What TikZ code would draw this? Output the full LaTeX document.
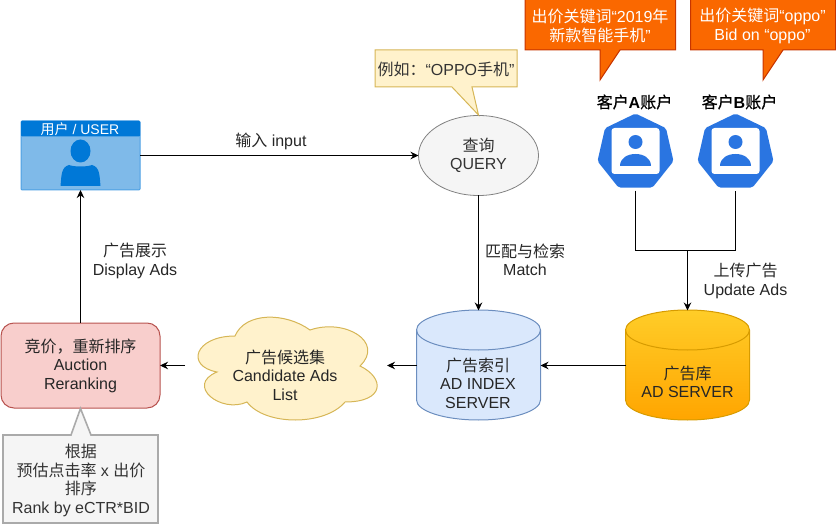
\documentclass[tikz,border=0pt]{standalone}
\usepackage{fontspec}
\setmainfont{Liberation Sans}
\newfontfamily\cjk{Noto Sans CJK SC}
\newfontfamily\cjkbold[FakeBold=0.6]{Noto Sans CJK SC}
\usetikzlibrary{arrows.meta,shapes.geometric}
\definecolor{userblue}{RGB}{0,120,215}
\definecolor{userfill}{RGB}{127,186,233}
\definecolor{useredge}{RGB}{77,160,228}
\definecolor{grayfill}{RGB}{245,245,245}
\definecolor{grayedge}{RGB}{130,130,130}
\definecolor{notegray}{RGB}{170,170,170}
\definecolor{labelgray}{RGB}{51,51,51}
\definecolor{notefill}{RGB}{255,242,204}
\definecolor{noteedge}{RGB}{214,182,86}
\definecolor{bidfill}{RGB}{250,104,0}
\definecolor{bidedge}{RGB}{199,53,0}
\definecolor{clientblue}{RGB}{42,117,225}
\definecolor{indexfill}{RGB}{218,232,252}
\definecolor{indexedge}{RGB}{108,142,191}
\definecolor{serverTop}{RGB}{255,205,40}
\definecolor{serverBot}{RGB}{255,165,0}
\definecolor{serveredge}{RGB}{215,155,0}
\definecolor{rankfill}{RGB}{248,206,204}
\definecolor{rankedge}{RGB}{184,84,80}
\newcommand{\zh}[1]{{\cjk #1}}
\tikzset{
  label16/.style={font=\fontsize{16}{18.5}\selectfont,align=center,inner sep=0pt},
  darklabel/.style={label16,text=labelgray},
  bidlabel/.style={label16,text=white},
  link/.style={black,line width=1pt},
  arrowlink/.style={link,-{Stealth[length=8pt,width=7.5pt]}},
  emptybox/.style={inner sep=0pt,outer sep=0pt,minimum width=#1}
}
\begin{document}
\begin{tikzpicture}[x=1pt,y=-1pt,>=Stealth]
  \useasboundingbox (0,0) rectangle (836,524);

  % --- user box ---
  \node[draw=useredge,fill=userfill,line width=1pt,rounded corners=1pt,emptybox=119pt,minimum height=69pt]
    (user) at (80.5,155.5) {};
  \fill[userblue,rounded corners=1pt] (21,121) rectangle (140,136.5);
  \node[font=\fontsize{14}{16}\selectfont,text=white,inner sep=0pt] (usertitle) at (80,129)
    {\zh{用户} / USER};
  \fill[userblue] (80.5,151) ellipse (10 and 11.5);
  \fill[userblue] (60.5,186) .. controls (61.5,176) and (61,167) .. (69,165)
    .. controls (74,167) and (87,167) .. (92,165)
    .. controls (100,167) and (99.5,176) .. (100.5,186) -- cycle;

  % --- query ---
  \node[ellipse,draw=grayedge,fill=grayfill,line width=.8pt,emptybox=120pt,minimum height=80pt,
    darklabel] (query) at (478.5,155.5) {\zh{查询}\\QUERY};

  % example note on the query
  \draw[noteedge,fill=notefill,line width=1pt]
    (375,50) -- (517,50) -- (517,87) -- (472,87) -- (478.5,115) -- (452,87) -- (375,87) -- cycle;
  \node[darklabel] (querynote) at (446,69) {\zh{例如：}“OPPO\zh{手机}”};

  % --- client bids ---
  \draw[bidedge,fill=bidfill,line width=1pt]
    (525,-1) -- (675.5,-1) -- (675.5,50) -- (620,50) -- (600,80) -- (600,50) -- (525,50) -- cycle;
  \node[bidlabel] (bida) at (600,26) {\zh{出价关键词}“2019\zh{年}\\\zh{新款智能手机}”};
  \draw[bidedge,fill=bidfill,line width=1pt]
    (690.5,-1) -- (835.5,-1) -- (835.5,50) -- (783,50) -- (763,80) -- (763,50) -- (690.5,50) -- cycle;
  \node[bidlabel] (bidb) at (762.5,26) {\zh{出价关键词}“oppo”\\Bid on “oppo”};

  \node[label16,text=black] (namea) at (634.5,102) {{\cjkbold 客户}\textbf{A}{\cjkbold 账户}};
  \node[label16,text=black] (nameb) at (739.5,102) {{\cjkbold 客户}\textbf{B}{\cjkbold 账户}};

  % --- client icons ---
  \node[regular polygon,regular polygon sides=7,fill=clientblue,rounded corners=2pt,
    inner sep=0pt,outer sep=0pt,minimum size=78pt] (clienta) at (635.5,152.5) {};
  \node[regular polygon,regular polygon sides=7,fill=clientblue,rounded corners=2pt,
    inner sep=0pt,outer sep=0pt,minimum size=78pt] (clientb) at (735.5,152.5) {};
  \foreach \cx in {635.5,735.5} {
    \fill[white,rounded corners=3pt] (\cx-24,128) rectangle (\cx+24,174);
    \fill[clientblue] (\cx,142) circle (7);
    \fill[clientblue] (\cx-15.5,166) .. controls (\cx-15.5,158) and (\cx-8,154) .. (\cx,154)
      .. controls (\cx+8,154) and (\cx+15.5,158) .. (\cx+15.5,166) -- cycle;
  }

  % --- databases ---
  \fill[indexfill] (416.5,330) arc[start angle=180,end angle=360,x radius=62,y radius=20]
    -- (540.5,400) arc[start angle=0,end angle=180,x radius=62,y radius=20] -- cycle;
  \draw[indexedge,line width=1pt] (416.5,330) arc[start angle=180,end angle=360,x radius=62,y radius=20]
    -- (540.5,400) arc[start angle=0,end angle=180,x radius=62,y radius=20] -- cycle;
  \draw[indexedge,line width=1pt] (416.5,330) arc[start angle=180,end angle=0,x radius=62,y radius=20];
  \node[emptybox=124pt,minimum height=110pt] (adindex) at (478.5,365.5) {};
  \node[darklabel,text=black!85] (adindexlabel) at (478,383) {\zh{广告索引}\\AD INDEX\\SERVER};

  \shade[top color=serverTop,bottom color=serverBot] (625.5,330) arc[start angle=180,end angle=360,x radius=62,y radius=20]
    -- (749.5,400) arc[start angle=0,end angle=180,x radius=62,y radius=20] -- cycle;
  \draw[serveredge,line width=1pt] (625.5,330) arc[start angle=180,end angle=360,x radius=62,y radius=20]
    -- (749.5,400) arc[start angle=0,end angle=180,x radius=62,y radius=20] -- cycle;
  \draw[serveredge,line width=1pt] (625.5,330) arc[start angle=180,end angle=0,x radius=62,y radius=20];
  \node[emptybox=124pt,minimum height=110pt] (adserver) at (687.5,365.5) {};
  \node[darklabel,text=black!85] (adserverlabel) at (687.5,382) {\zh{广告库}\\AD SERVER};

  % --- candidate cloud (box 200 x 120) ---
  \def\Cx{185}
  \def\Cy{306}
  \draw[noteedge,fill=notefill,line width=1pt,x=2pt,y=-1.2pt,shift={(\Cx pt,-\Cy pt)}]
    (25,25) .. controls (5,25) and (0,50) .. (16,55)
    .. controls (0,66) and (18,90) .. (31,80)
    .. controls (40,100) and (70,100) .. (80,80)
    .. controls (100,80) and (100,60) .. (87.5,50)
    .. controls (100,30) and (80,10) .. (62.5,20)
    .. controls (50,5) and (30,5) .. (25,25) -- cycle;
  \node[emptybox=202pt,minimum height=100pt] (cloud) at (286,365.5) {};
  \node[darklabel,text=black!85] (cloudlabel) at (285,375) {\zh{广告候选集}\\Candidate Ads\\List};

  % --- auction ---
  \node[draw=rankedge,fill=rankfill,line width=1pt,rounded corners=13pt,emptybox=159pt,minimum height=85pt,
    darklabel,text=black!85] (auction) at (80.5,365.5) {\zh{竞价，重新排序}\\Auction\\Reranking};

  % rank note
  \draw[notegray,fill=grayfill,line width=1.6pt]
    (3,435) -- (71,435) -- (80.5,408.5) -- (91,435) -- (158,435) -- (158,523) -- (3,523) -- cycle;
  \node[darklabel] (ranknote) at (81,480.5) {\zh{根据}\\\zh{预估点击率} x \zh{出价}\\\zh{排序}\\Rank by eCTR*BID};

  % --- connectors ---
  \coordinate (joinup) at (687.5,250.5);
  \draw[arrowlink] (user.east) -- node[pos=.47,above=5pt,label16,text=black!85] (inputlabel) {\zh{输入} input} (query.west);
  \draw[arrowlink] (query.south) -- (adindex.north);
  \node[label16,text=black!85] (matchlabel) at (525,260) {\zh{匹配与检索}\\Match};
  \draw[link,shorten <=3pt,shorten >=3pt] (clienta.south) |- (joinup) -| (clientb.south);
  \draw[arrowlink] (joinup) -- (adserver.north);
  \node[label16,text=black!85] (updatelabel) at (745.5,281) {\zh{上传广告}\\Update Ads};
  \draw[arrowlink] (adserver.west) -- (adindex.east);
  \draw[arrowlink] (adindex.west) -- (cloud.east);
  \draw[arrowlink] (cloud.west) -- (auction.east);
  \draw[arrowlink] (auction.north) -- (user.south);
  \node[label16,text=black!85] (displaylabel) at (135,261) {\zh{广告展示}\\Display Ads};
\end{tikzpicture}
\end{document}
